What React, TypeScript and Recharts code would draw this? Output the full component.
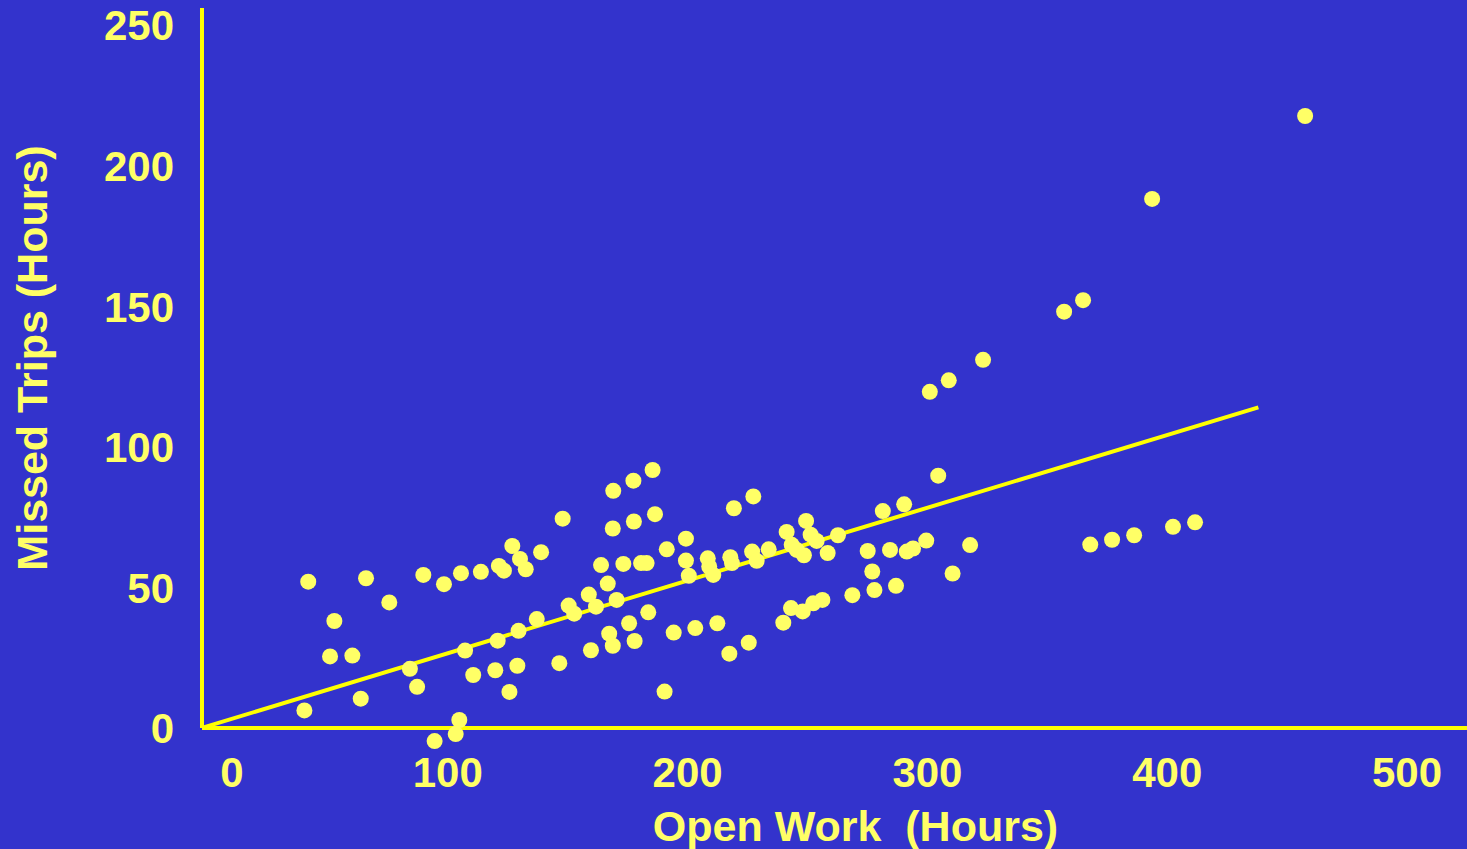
import React from "react";
import { ScatterChart, Scatter, XAxis, YAxis, ReferenceLine, Label } from "recharts";

// open work hours (x) and missed trip hours (y)
const openWork = [
  40.2, 41.8, 50.9, 52.7, 60.2, 63.7, 65.9, 75.6, 84.2, 87.2,
  89.8, 94.5, 98.4, 103.3, 104.8, 105.5, 107.2, 110.6, 113.8, 119.8,
  120.8, 121.3, 123.4, 125.7, 126.9, 129.0, 129.5, 130.1, 132.5, 137.1,
  138.9, 146.5, 147.9, 150.4, 152.7, 158.8, 159.7, 161.8, 163.9, 166.7,
  167.3, 168.8, 169.0, 168.8, 170.4, 173.2, 175.6, 177.4, 177.6, 177.9,
  180.6, 182.9, 183.6, 185.4, 186.4, 190.4, 191.3, 194.2, 199.3, 199.3,
  200.5, 203.2, 208.4, 209.0, 210.7, 212.4, 217.4, 217.8, 218.5, 219.3,
  225.5, 226.9, 227.4, 228.8, 233.8, 239.9, 241.3, 243.1, 243.4, 245.5,
  248.0, 248.5, 249.4, 251.3, 252.4, 253.8, 256.2, 258.4, 262.7, 268.7,
  275.1, 277.0, 277.9, 281.4, 284.4, 286.9, 290.3, 291.4, 294.0, 299.5,
  301.0, 304.5, 308.9, 310.5, 317.8, 323.2, 357.0, 364.9, 367.9, 377.0,
  386.2, 393.7, 402.4, 411.6, 457.5,
];

const missedTrips = [
  6.2, 52.0, 25.4, 38.0, 25.7, 10.4, 53.2, 44.6, 21.0, 14.6,
  54.4, -4.7, 51.1, -2.2, 2.8, 55.0, 27.5, 18.8, 55.5, 20.5,
  31.0, 57.6, 55.9, 12.8, 64.7, 22.1, 34.5, 60.1, 56.4, 38.7,
  62.5, 23.0, 74.4, 43.5, 40.6, 47.4, 27.6, 43.1, 57.9, 51.3,
  33.5, 70.9, 84.3, 29.2, 45.5, 58.3, 37.2, 87.9, 73.4, 30.9,
  58.6, 58.6, 41.1, 91.7, 76.0, 12.9, 63.5, 33.9, 67.3, 59.5,
  54.1, 35.5, 60.3, 57.4, 54.4, 37.2, 26.4, 60.7, 58.6, 78.1,
  30.3, 62.7, 82.3, 59.4, 63.5, 37.4, 69.7, 42.6, 65.1, 63.3,
  41.4, 61.4, 73.6, 68.7, 44.3, 66.5, 45.5, 62.2, 68.5, 47.2,
  62.9, 55.6, 49.0, 77.1, 63.3, 50.5, 79.5, 62.7, 63.8, 66.6,
  119.5, 89.7, 123.6, 54.9, 65.0, 130.9, 148.0, 152.1, 65.2, 66.9,
  68.5, 188.1, 71.5, 73.1, 217.6,
];

const xTicks = [0, 100, 200, 300, 400, 500];
const yTicks = [0, 50, 100, 150, 200, 250];

// fitted trend line end points
const trendLine = [
  { x: -2.5, y: 0 },
  { x: 438, y: 114 },
];

const points = openWork.map((x, i) => ({ x, y: missedTrips[i] }));

const BG = "#3333CC";
const TEXT = "#FFFF66";
const LINE = "#FFFF00";
const FONT = "'Liberation Sans', Arial, Helvetica, sans-serif";

const XTick = (props: any) => {
  const { x, y, payload } = props;
  // the "0" label sits a bit right of its tick on the original slide
  const shift = payload.value === 0 ? 24 : 0;
  return (
    <text
      x={x + shift}
      y={y}
      dy={8}
      textAnchor="middle"
      dominantBaseline="central"
      fill={TEXT}
      fontSize={42}
      fontWeight="bold"
      fontFamily={FONT}
    >
      {payload.value}
    </text>
  );
};

const YTick = (props: any) => {
  const { x, y, payload } = props;
  return (
    <text
      x={x}
      y={y}
      dx={-14}
      dy={1}
      textAnchor="end"
      dominantBaseline="central"
      fill={TEXT}
      fontSize={42}
      fontWeight="bold"
      fontFamily={FONT}
    >
      {payload.value}
    </text>
  );
};

const Dot = (props: any) => <circle cx={props.cx} cy={props.cy} r={8} fill={TEXT} />;

export default function App() {
  return (
    <div style={{ position: "absolute", left: 0, top: 0, width: 1467, height: 849, background: BG }}>
      <ScatterChart width={1467} height={849} margin={{ top: 8, right: 0, bottom: 0, left: 0 }}>
        <XAxis
          type="number"
          dataKey="x"
          domain={[-5, 525]}
          ticks={xTicks}
          interval={0}
          height={93}
          axisLine={false}
          tickLine={false}
          tick={<XTick />}
        >
          <Label
            content={(p: any) => {
              const vb = p.viewBox || { x: 196, y: 756, width: 1271, height: 93 };
              return (
                <text
                  x={vb.x + vb.width / 2 + 24}
                  y={vb.y + 70}
                  textAnchor="middle"
                  dominantBaseline="central"
                  fill={TEXT}
                  fontSize={43}
                  fontWeight="bold"
                  fontFamily={FONT}
                  style={{ whiteSpace: "pre" }}
                >
                  {"Open Work  (Hours)"}
                </text>
              );
            }}
          />
        </XAxis>
        <YAxis
          type="number"
          dataKey="y"
          domain={[-10, 256]}
          ticks={yTicks}
          interval={0}
          width={196}
          axisLine={false}
          tickLine={false}
          tick={<YTick />}
        >
          <Label
            content={(p: any) => {
              const vb = p.viewBox || { x: 0, y: 8, width: 196, height: 748 };
              const cx = vb.x + 32;
              const cy = vb.y + vb.height / 2 - 24;
              return (
                <text
                  x={cx}
                  y={cy}
                  transform={`rotate(-90, ${cx}, ${cy})`}
                  textAnchor="middle"
                  dominantBaseline="central"
                  fill={TEXT}
                  fontSize={43}
                  fontWeight="bold"
                  fontFamily={FONT}
                >
                  Missed Trips (Hours)
                </text>
              );
            }}
          />
        </YAxis>
        <ReferenceLine
          segment={[{ x: -2.5, y: 0 }, { x: -2.5, y: 256 }]}
          stroke={LINE}
          strokeWidth={4}
        />
        <ReferenceLine
          segment={[{ x: -2.5, y: 0 }, { x: 525, y: 0 }]}
          stroke={LINE}
          strokeWidth={4}
        />
        <ReferenceLine segment={trendLine} stroke={LINE} strokeWidth={4} />
        <Scatter data={points} fill={TEXT} shape={<Dot />} isAnimationActive={false} />
      </ScatterChart>
    </div>
  );
}
